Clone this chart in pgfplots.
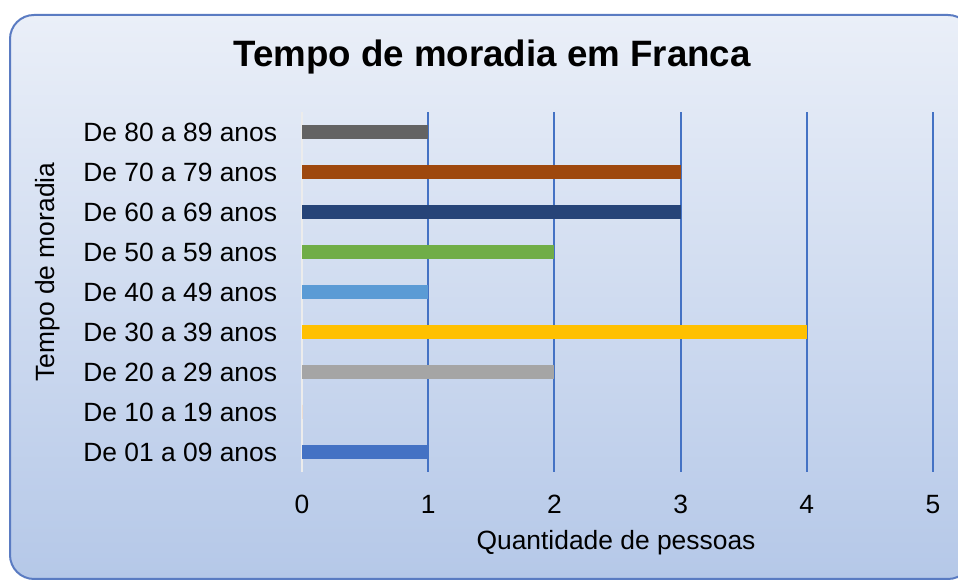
\documentclass[border=0pt]{standalone}
\usepackage{fontspec}
\setmainfont{Liberation Sans}
\usepackage{pgfplots}
\pgfplotsset{compat=1.18}

\definecolor{bgtop}{HTML}{EAEFF8}
\definecolor{bgmid}{HTML}{C9D5EE}
\definecolor{bgbot}{HTML}{B5C8E8}
\definecolor{frame}{HTML}{5A7BC2}
\definecolor{gridblue}{HTML}{4472C4}
\definecolor{c1}{HTML}{4472C4}
\definecolor{c2}{HTML}{ED7D31}
\definecolor{c3}{HTML}{A5A5A5}
\definecolor{c4}{HTML}{FFC000}
\definecolor{c5}{HTML}{5B9BD5}
\definecolor{c6}{HTML}{70AD47}
\definecolor{c7}{HTML}{264478}
\definecolor{c8}{HTML}{9E480E}
\definecolor{c9}{HTML}{636363}

\begin{document}
\begin{tikzpicture}
\useasboundingbox (0,0) rectangle (479pt,290.5pt);
\clip (0,0) rectangle (479pt,290.5pt);
\fill[white] (0,0) rectangle (479pt,290.5pt);
% chart area, cut off at the right edge like the screenshot
\shade[top color=bgtop, middle color=bgmid, bottom color=bgbot, rounded corners=12pt]
    (5pt,1pt) rectangle (486pt,283pt);
\draw[frame, line width=1pt, rounded corners=12pt] (5pt,1pt) rectangle (486pt,283pt);

\begin{axis}[
    at={(151pt,54.5pt)}, anchor=south west,
    scale only axis, width=315.5pt, height=180pt,
    xbar, bar width=7pt, bar shift=0pt,
    xmin=0, xmax=5, ymin=-0.5, ymax=8.5,
    xtick={1,2,3,4,5},
    extra x ticks={0},
    extra x tick style={grid style={draw=white!85!gray, line width=0.9pt}},
    ytick={0,...,8},
    yticklabels={De 01 a 09 anos, De 10 a 19 anos, De 20 a 29 anos,
        De 30 a 39 anos, De 40 a 49 anos, De 50 a 59 anos,
        De 60 a 69 anos, De 70 a 79 anos, De 80 a 89 anos},
    xmajorgrids,
    grid style={draw=gridblue, line width=1pt},
    axis line style={draw=none},
    tick style={draw=none},
    /pgf/number format/assume math mode=true,
    tick label style={font=\fontsize{13.2}{15}\selectfont},
    yticklabel style={inner sep=0pt, xshift=-8pt},
    xticklabel style={inner sep=0pt, yshift=-11.5pt},
    every axis plot/.append style={draw=none},
]
\addplot[fill=c1] coordinates {(1,0)};
\addplot[fill=c2] coordinates {(0,1)};
\addplot[fill=c3] coordinates {(2,2)};
\addplot[fill=c4] coordinates {(4,3)};
\addplot[fill=c5] coordinates {(1,4)};
\addplot[fill=c6] coordinates {(2,5)};
\addplot[fill=c7] coordinates {(3,6)};
\addplot[fill=c8] coordinates {(3,7)};
\addplot[fill=c9] coordinates {(1,8)};
\end{axis}

\node[font=\fontsize{18.35}{22}\selectfont\bfseries] at (246pt,262pt) {Tempo de moradia em Franca};
\node[font=\fontsize{13.2}{15}\selectfont] at (308pt,19pt) {Quantidade de pessoas};
\node[font=\fontsize{13.2}{15}\selectfont, rotate=90] at (24pt,154.5pt) {Tempo de moradia};
\end{tikzpicture}
\end{document}
